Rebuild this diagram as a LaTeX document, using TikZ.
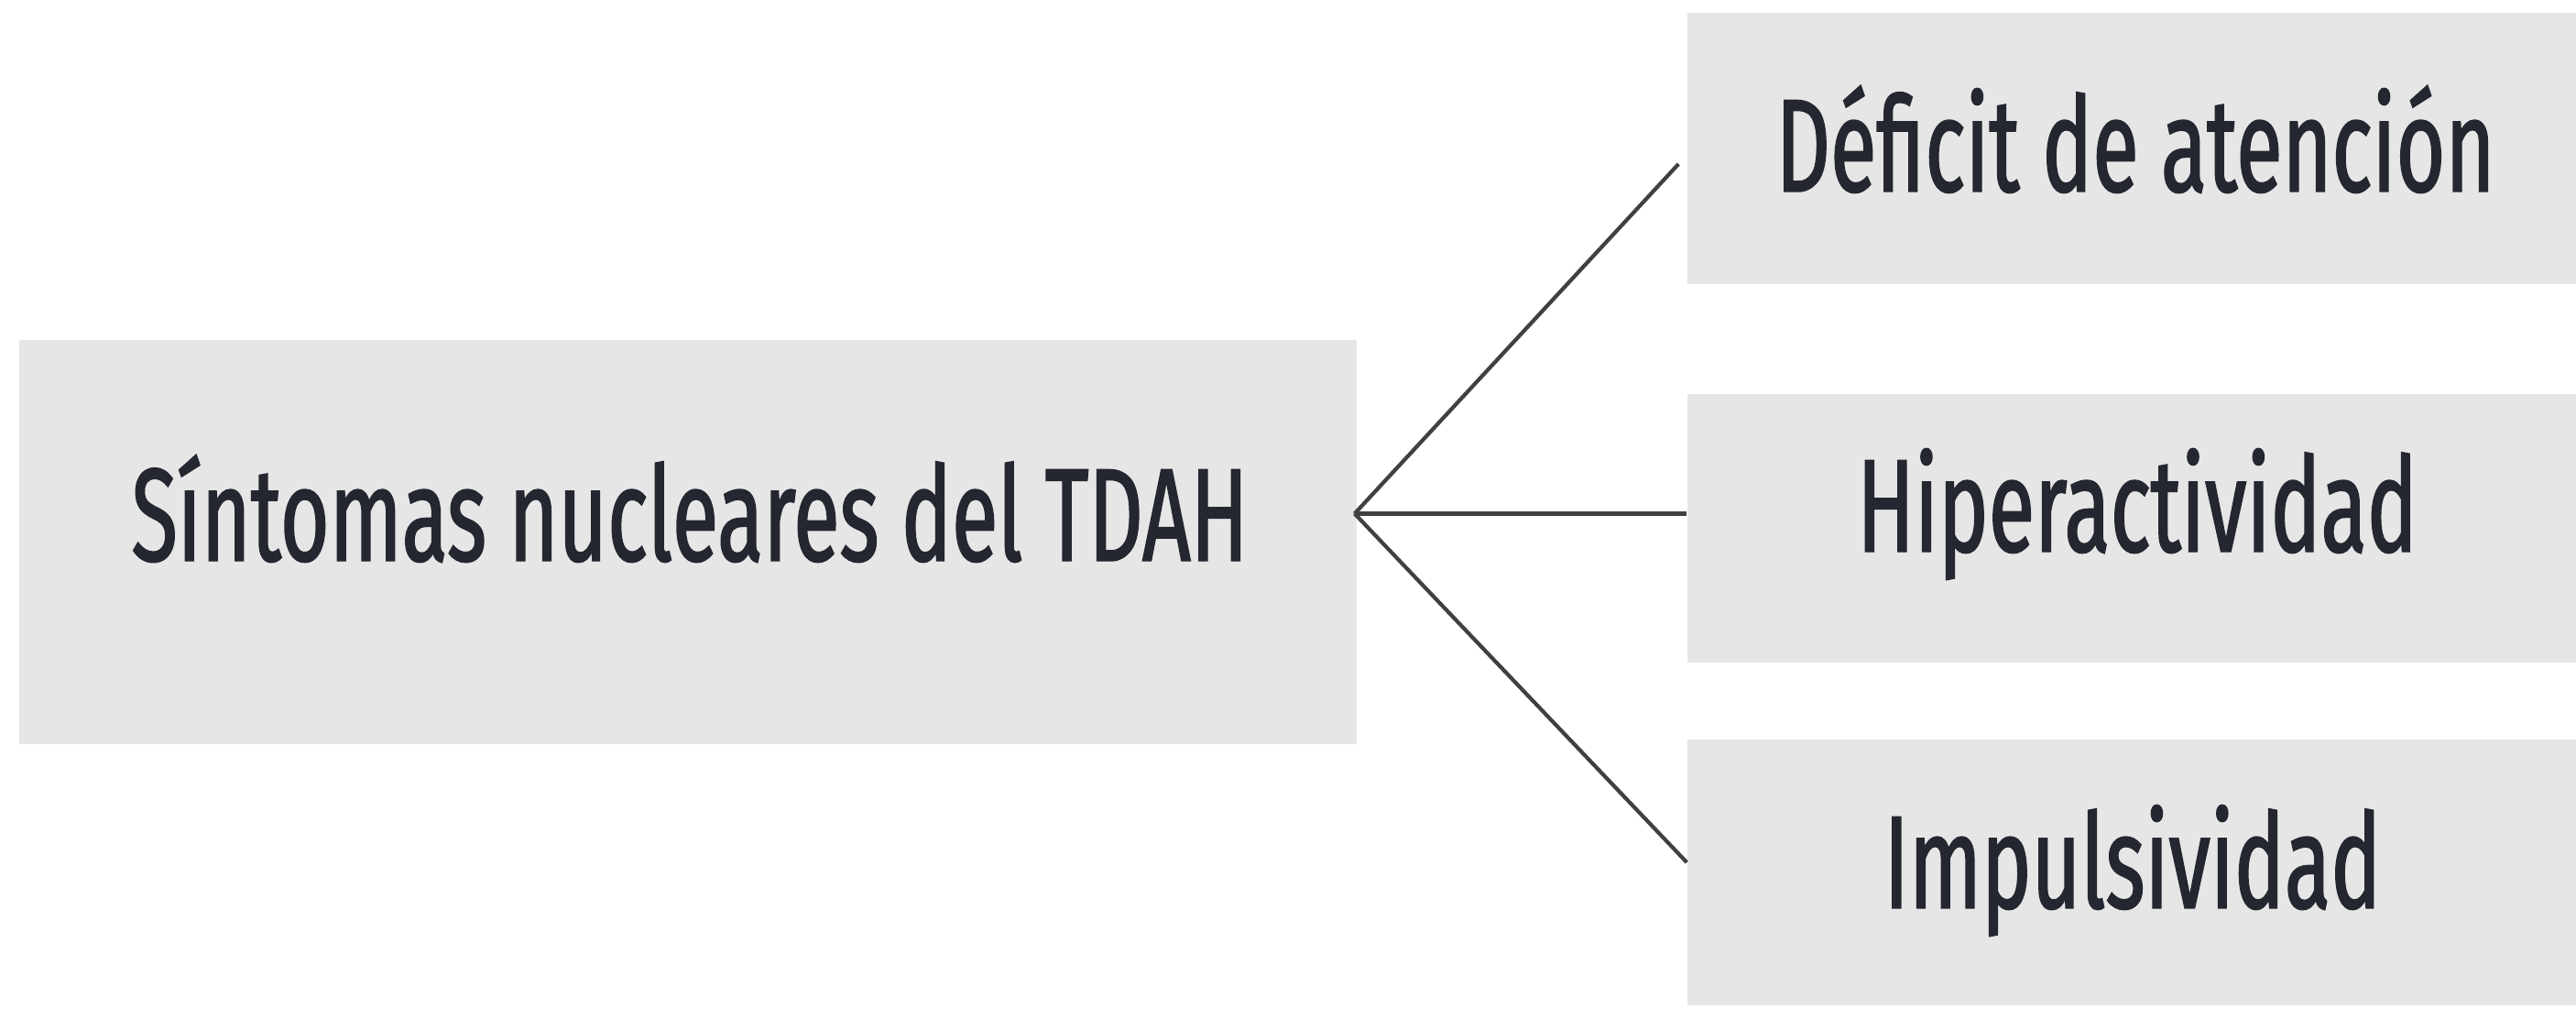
\documentclass[tikz,border=0pt]{standalone}
\usepackage{fontspec}
\newfontfamily\condfont[FakeStretch=0.64, FakeBold=1.2]{Fira Sans}
\usetikzlibrary{calc}
\definecolor{boxgray}{RGB}{230,230,230}
\definecolor{textdark}{RGB}{36,38,48}

\begin{document}
\begin{tikzpicture}[box/.style={rectangle, fill=boxgray, inner sep=0pt},
    label/.style={font=\condfont\fontsize{41}{48}\selectfont, text=textdark, inner sep=0pt},
    link/.style={draw=black!75, line width=1.2pt}]

		\useasboundingbox (0,0) rectangle (28.12,11.01);

		\node[box, minimum width=14.60cm, minimum height=4.41cm] (core) at (7.51,5.095) {};
		\node[label] (coretext) at (7.53,5.46) {Síntomas nucleares del TDAH};

		\node[box, minimum width=9.70cm, minimum height=2.96cm] (deficit) at (23.27,9.39) {};
		\node[box, minimum width=9.70cm, minimum height=2.93cm] (hiper) at (23.27,5.245) {};
		\node[box, minimum width=9.70cm, minimum height=2.90cm] (impul) at (23.27,1.49) {};

		\node[label] (deficittext) at (23.31,9.49) {Déficit de atención};
		\node[label] (hipertext) at (23.33,5.40) {Hiperactividad};
		\node[label] (impultext) at (23.28,1.51) {Impulsividad};

		\coordinate (split) at ($(core.east)+(-0.03,0.31)$);
		\draw[link] (split) -- ($(deficit.west)+(-0.09,-0.17)$);
		\draw[link] (split) -- (hiper.west |- split);
		\draw[link] (split) -- ($(impul.west)+(0,0.11)$);
    \end{tikzpicture}
\end{document}
